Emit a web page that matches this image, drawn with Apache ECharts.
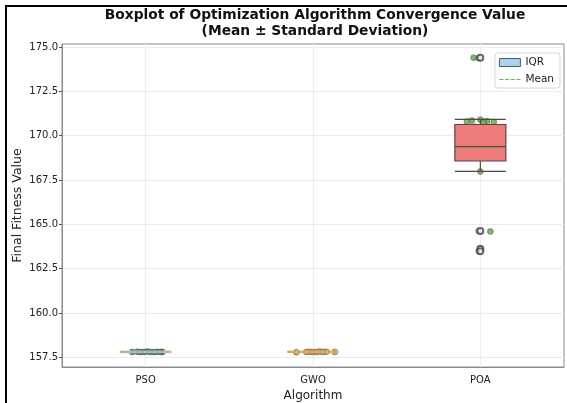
<!DOCTYPE html>
<html>
<head>
<meta charset="utf-8">
<script src="https://cdn.jsdelivr.net/npm/echarts@6/dist/echarts.min.js"></script>
<style>
  html, body { margin: 0; padding: 0; background: #fff; }
  #chart { width: 567px; height: 403px; }
</style>
</head>
<body>
<div id="chart"></div>
<script>
// Algorithms compared
const categories = ['PSO', 'GWO', 'POA'];

// Box statistics per algorithm: [lower whisker, Q1, median, Q3, upper whisker]
const boxPSO = [157.76, 157.78, 157.80, 157.82, 157.84];
const boxGWO = [157.76, 157.79, 157.80, 157.82, 157.84];
const boxPOA = [167.98, 168.57, 169.38, 170.63, 170.92];

// Mean final fitness per algorithm
const means = [157.80, 157.80, 169.30];

// Outliers beyond the whiskers (POA only): [category index, value]
const fliers = [[2, 174.40], [2, 164.62], [2, 163.62], [2, 163.48]];

// Individual runs: [value, horizontal jitter in category units]
const runsPSO = [
  [157.80, -0.08], [157.81, -0.05], [157.79, -0.03], [157.80, -0.01], [157.82, 0.01],
  [157.80, 0.03], [157.79, 0.05], [157.81, 0.07], [157.80, 0.09], [157.80, 0.10]
];
const runsGWO = [
  [157.78, -0.10], [157.80, -0.04], [157.81, -0.02], [157.79, 0.00], [157.80, 0.02],
  [157.82, 0.04], [157.80, 0.06], [157.81, 0.08], [157.80, 0.13]
];
const runsPOA = [
  [174.40, -0.04], [174.38, -0.01],
  [170.90, 0.00], [170.85, -0.05], [170.82, 0.04], [170.80, -0.08], [170.78, 0.02], [170.76, 0.08],
  [170.50, -0.03], [170.40, 0.05], [170.10, -0.06], [169.80, 0.02], [169.40, -0.02],
  [169.20, 0.07], [168.90, -0.07], [168.80, 0.03],
  [167.98, 0.00],
  [164.62, -0.01], [164.60, 0.06],
  [163.62, 0.00], [163.48, -0.01]
];

// y-axis tick labels
const yTicks = [157.5, 160.0, 162.5, 165.0, 167.5, 170.0, 172.5, 175.0];

const boxColors = ['#3a8bb0', '#e08a2c', '#f07b7b'];
const edgeColors = ['#c8c3a2', '#e2b57a', '#5a4545'];
const pointColors = ['#23698a', '#d47a1e', '#5aa845'];

const runs = [runsPSO, runsGWO, runsPOA];
// individual runs sit underneath the boxes
const pointSeries = runs.map((list, i) => ({
  type: 'scatter',
  name: categories[i] + ' runs',
  xAxisIndex: 1,
  yAxisIndex: 0,
  z: 1,
  symbolSize: 6,
  itemStyle: { color: pointColors[i], opacity: 0.8, borderColor: '#444', borderWidth: 0.5 },
  data: list.map(r => [i + 1 + r[1], r[0]])
}));

const chart = echarts.init(document.getElementById('chart'), null, { renderer: 'canvas' });

chart.setOption({
  animation: false,
  backgroundColor: '#ffffff',
  textStyle: { fontFamily: 'DejaVu Sans' },
  title: {
    text: 'Boxplot of Optimization Algorithm Convergence Value\n(Mean ± Standard Deviation)',
    left: 310,
    textAlign: 'center',
    top: 2,
    textStyle: { fontFamily: 'DejaVu Sans', fontSize: 13.8, fontWeight: 'bold', color: '#111', lineHeight: 16 }
  },
  legend: {
    right: 7,
    top: 53,
    orient: 'vertical',
    itemWidth: 21,
    itemHeight: 8,
    itemGap: 6,
    padding: [4, 6, 3, 4],
    borderColor: '#d6d6d6',
    borderWidth: 1,
    borderRadius: 3,
    backgroundColor: 'rgba(255,255,255,0.85)',
    textStyle: { fontSize: 10.5, color: '#222' },
    data: [
      { name: 'IQR', icon: 'rect', itemStyle: { color: '#aed3e6', borderColor: '#3a5f80', borderWidth: 1 } },
      { name: 'Mean', icon: 'path://M0,4h5v1h-5z M7,4h5v1h-5z M14,4h5v1h-5z M21,4h5v1h-5z', itemStyle: { color: '#6bb15a' } }
    ]
  },
  graphic: [{
    type: 'polyline',
    shape: { points: [[6, 403], [6, 6], [567, 6]] },
    style: { stroke: '#000', lineWidth: 2, fill: null },
    silent: true
  }],
  grid: {
    left: 62, right: 3, top: 44, bottom: 36,
    outerBoundsMode: 'none',
    show: true, borderColor: '#8a8a8a', borderWidth: 1
  },
  xAxis: [{
    type: 'category',
    data: categories,
    boundaryGap: true,
    name: 'Algorithm',
    nameLocation: 'middle',
    nameGap: 23,
    nameMoveOverlap: false,
    nameTextStyle: { fontSize: 12, color: '#222' },
    axisLine: { lineStyle: { color: '#8a8a8a' } },
    axisTick: { alignWithLabel: true, length: 3, lineStyle: { color: '#555' } },
    axisLabel: { fontSize: 10, color: '#222', margin: 8 },
    splitLine: { show: false }
  }, {
    type: 'value',
    min: 0.5,
    max: 3.5,
    show: true,
    axisLine: { show: false },
    axisLabel: { show: false },
    axisTick: { show: false, customValues: [1, 2, 3] },
    splitLine: { show: true, lineStyle: { color: '#ececec', width: 1 } }
  }],
  yAxis: [{
    type: 'value',
    min: 156.95,
    max: 175.17,
    name: 'Final Fitness Value',
    nameLocation: 'middle',
    nameGap: 38,
    nameMoveOverlap: false,
    nameTextStyle: { fontSize: 12.5, color: '#222' },
    axisLine: { show: true, lineStyle: { color: '#8a8a8a' } },
    axisTick: { show: true, length: 3, customValues: yTicks, lineStyle: { color: '#555' } },
    axisLabel: { fontSize: 10, color: '#222', margin: 4, customValues: yTicks, formatter: v => v.toFixed(1) },
    splitLine: { show: true, lineStyle: { color: '#ececec', width: 1 } }
  }],
  series: [
    ...pointSeries,
    {
      type: 'boxplot',
      name: 'IQR',
      xAxisIndex: 0,
      yAxisIndex: 0,
      z: 2,
      boxWidth: [51, 51],
      data: [boxPSO, boxGWO, boxPOA].map((b, i) => ({
        value: b,
        itemStyle: { color: boxColors[i], borderColor: edgeColors[i], borderWidth: 1.2, opacity: 1 }
      }))
    },
    {
      type: 'custom',
      name: 'Mean',
      xAxisIndex: 0,
      yAxisIndex: 0,
      z: 4,
      data: means.map((m, i) => [i, m]),
      renderItem: function (params, api) {
        const c = api.coord([api.value(0), api.value(1)]);
        return {
          type: 'line',
          shape: { x1: c[0] - 25, y1: c[1], x2: c[0] + 25, y2: c[1] },
          style: { stroke: '#6bb15a', lineWidth: 1, lineDash: [3, 2], opacity: 0.9 }
        };
      }
    },
    {
      type: 'scatter',
      name: 'Outliers',
      xAxisIndex: 0,
      yAxisIndex: 0,
      z: 5,
      symbol: 'emptyCircle',
      symbolSize: 6,
      itemStyle: { color: '#444', borderColor: '#444', borderWidth: 1, opacity: 0.8 },
      data: fliers
    }
  ]
});
</script>
</body>
</html>
